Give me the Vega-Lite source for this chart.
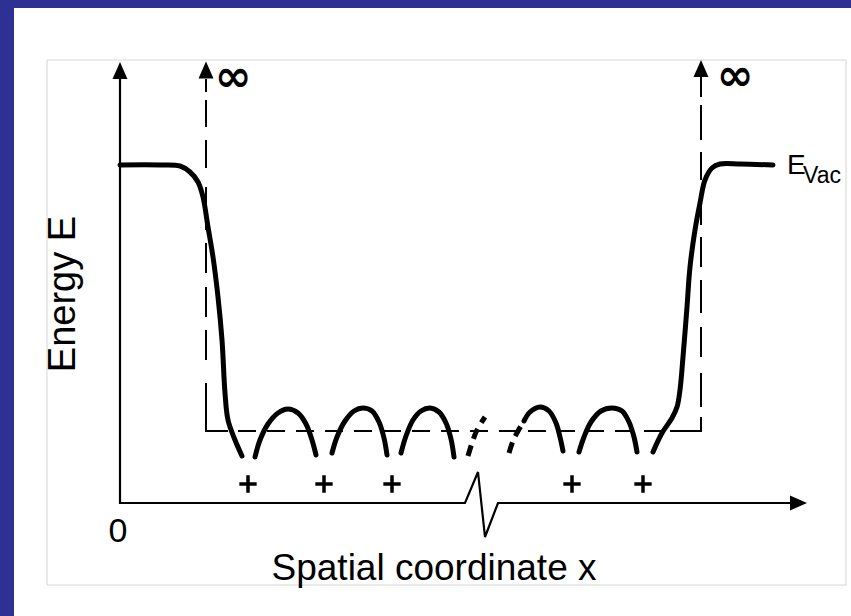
{
  "$schema": "https://vega.github.io/schema/vega-lite/v6.json",
  "width": 851,
  "height": 616,
  "autosize": {"type": "fit", "contains": "padding"},
  "padding": 0,
  "background": "#2e3192",
  "config": {"view": {"stroke": null}, "axis": {"disable": true}, "text": {"font": "Liberation Sans"}},
  "layer": [
    {
      "data": {"values": [{"x": 14, "x2": 851, "y": 8, "y2": 616}]},
      "mark": {"type": "rect", "fill": "#ffffff"},
      "encoding": {
        "x": {"field": "x", "type": "quantitative", "scale": {"domain": [0, 851], "nice": false, "zero": false}, "axis": null},
        "x2": {"field": "x2"},
        "y": {"field": "y", "type": "quantitative", "scale": {"domain": [0, 616], "reverse": true, "nice": false, "zero": false}, "axis": null},
        "y2": {"field": "y2"}
      }
    },
    {
      "data": {"values": [{"x": 47, "x2": 846, "y": 60, "y2": 585}]},
      "mark": {"type": "rect", "fillOpacity": 0, "stroke": "#d6d6d6", "strokeWidth": 1},
      "encoding": {
        "x": {"field": "x", "type": "quantitative"},
        "x2": {"field": "x2"},
        "y": {"field": "y", "type": "quantitative"},
        "y2": {"field": "y2"}
      }
    },
    {
      "data": {"values": [
        {"i": 0, "x": 120, "y": 79},
        {"i": 1, "x": 120, "y": 503},
        {"i": 2, "x": 465, "y": 503},
        {"i": 3, "x": 478, "y": 472},
        {"i": 4, "x": 485, "y": 537},
        {"i": 5, "x": 498, "y": 503},
        {"i": 6, "x": 792, "y": 503}
      ]},
      "mark": {"type": "line", "color": "#000000", "strokeWidth": 2.2, "strokeJoin": "miter"},
      "encoding": {
        "x": {"field": "x", "type": "quantitative"},
        "y": {"field": "y", "type": "quantitative"},
        "order": {"field": "i", "type": "quantitative"}
      }
    },
    {
      "data": {"values": [
        {"g": "a", "i": 0, "x": 206, "y": 383},
        {"g": "a", "i": 1, "x": 206, "y": 431},
        {"g": "a", "i": 2, "x": 228, "y": 431},
        {"g": "b", "i": 0, "x": 670, "y": 431},
        {"g": "b", "i": 1, "x": 701, "y": 431},
        {"g": "b", "i": 2, "x": 701, "y": 417}
      ]},
      "mark": {"type": "line", "color": "#000000", "strokeWidth": 2, "strokeJoin": "miter"},
      "encoding": {
        "x": {"field": "x", "type": "quantitative"},
        "y": {"field": "y", "type": "quantitative"},
        "detail": {"field": "g"},
        "order": {"field": "i", "type": "quantitative"}
      }
    },
    {
      "data": {"values": [
        {"x": 206, "y": 79, "y2": 92},
        {"x": 206, "y": 100, "y2": 127},
        {"x": 206, "y": 140, "y2": 168},
        {"x": 206, "y": 187, "y2": 230},
        {"x": 206, "y": 243, "y2": 273},
        {"x": 206, "y": 287, "y2": 317},
        {"x": 206, "y": 330, "y2": 360},
        {"x": 701, "y": 75, "y2": 97},
        {"x": 701, "y": 105, "y2": 140},
        {"x": 701, "y": 152, "y2": 180},
        {"x": 701, "y": 200, "y2": 225},
        {"x": 701, "y": 237, "y2": 267},
        {"x": 701, "y": 280, "y2": 313},
        {"x": 701, "y": 327, "y2": 357},
        {"x": 701, "y": 373, "y2": 407}
      ]},
      "mark": {"type": "rule", "color": "#000000", "strokeWidth": 2},
      "encoding": {
        "x": {"field": "x", "type": "quantitative"},
        "y": {"field": "y", "type": "quantitative"},
        "y2": {"field": "y2"}
      }
    },
    {
      "data": {"values": [{"x": 238, "x2": 670, "y": 431}]},
      "mark": {"type": "rule", "color": "#000000", "strokeWidth": 2, "strokeDash": [18, 11]},
      "encoding": {
        "x": {"field": "x", "type": "quantitative"},
        "x2": {"field": "x2"},
        "y": {"field": "y", "type": "quantitative"}
      }
    },
    {
      "data": {"values": [
        {"g": "L", "i": 0, "x": 120, "y": 165},
        {"g": "L", "i": 1, "x": 160, "y": 165},
        {"g": "L", "i": 2, "x": 180, "y": 166},
        {"g": "L", "i": 3, "x": 190, "y": 172},
        {"g": "L", "i": 4, "x": 198, "y": 182},
        {"g": "L", "i": 5, "x": 203, "y": 197},
        {"g": "L", "i": 6, "x": 208, "y": 227},
        {"g": "L", "i": 7, "x": 213, "y": 257},
        {"g": "L", "i": 8, "x": 218, "y": 297},
        {"g": "L", "i": 9, "x": 222, "y": 340},
        {"g": "L", "i": 10, "x": 225, "y": 393},
        {"g": "L", "i": 11, "x": 228, "y": 420},
        {"g": "L", "i": 12, "x": 235, "y": 440},
        {"g": "L", "i": 13, "x": 242, "y": 456},
        {"g": "A1", "i": 0, "x": 255, "y": 457},
        {"g": "A1", "i": 1, "x": 260, "y": 440},
        {"g": "A1", "i": 2, "x": 268, "y": 424},
        {"g": "A1", "i": 3, "x": 278, "y": 413},
        {"g": "A1", "i": 4, "x": 288, "y": 409},
        {"g": "A1", "i": 5, "x": 298, "y": 413},
        {"g": "A1", "i": 6, "x": 306, "y": 424},
        {"g": "A1", "i": 7, "x": 312, "y": 440},
        {"g": "A1", "i": 8, "x": 316, "y": 455},
        {"g": "A2", "i": 0, "x": 332, "y": 453},
        {"g": "A2", "i": 1, "x": 337, "y": 437},
        {"g": "A2", "i": 2, "x": 345, "y": 421},
        {"g": "A2", "i": 3, "x": 354, "y": 411},
        {"g": "A2", "i": 4, "x": 363, "y": 408},
        {"g": "A2", "i": 5, "x": 372, "y": 411},
        {"g": "A2", "i": 6, "x": 379, "y": 422},
        {"g": "A2", "i": 7, "x": 384, "y": 438},
        {"g": "A2", "i": 8, "x": 387, "y": 455},
        {"g": "A3", "i": 0, "x": 401, "y": 453},
        {"g": "A3", "i": 1, "x": 406, "y": 436},
        {"g": "A3", "i": 2, "x": 413, "y": 420},
        {"g": "A3", "i": 3, "x": 421, "y": 411},
        {"g": "A3", "i": 4, "x": 430, "y": 408},
        {"g": "A3", "i": 5, "x": 439, "y": 412},
        {"g": "A3", "i": 6, "x": 446, "y": 423},
        {"g": "A3", "i": 7, "x": 451, "y": 439},
        {"g": "A3", "i": 8, "x": 454, "y": 457},
        {"g": "A4", "i": 0, "x": 524, "y": 421},
        {"g": "A4", "i": 1, "x": 530, "y": 412},
        {"g": "A4", "i": 2, "x": 540, "y": 407},
        {"g": "A4", "i": 3, "x": 549, "y": 411},
        {"g": "A4", "i": 4, "x": 556, "y": 423},
        {"g": "A4", "i": 5, "x": 560, "y": 437},
        {"g": "A4", "i": 6, "x": 563, "y": 451},
        {"g": "A5", "i": 0, "x": 579, "y": 452},
        {"g": "A5", "i": 1, "x": 584, "y": 437},
        {"g": "A5", "i": 2, "x": 591, "y": 422},
        {"g": "A5", "i": 3, "x": 601, "y": 411},
        {"g": "A5", "i": 4, "x": 612, "y": 408},
        {"g": "A5", "i": 5, "x": 622, "y": 411},
        {"g": "A5", "i": 6, "x": 629, "y": 422},
        {"g": "A5", "i": 7, "x": 634, "y": 437},
        {"g": "A5", "i": 8, "x": 637, "y": 452},
        {"g": "R", "i": 0, "x": 653, "y": 452},
        {"g": "R", "i": 1, "x": 662, "y": 433},
        {"g": "R", "i": 2, "x": 672, "y": 418},
        {"g": "R", "i": 3, "x": 677, "y": 407},
        {"g": "R", "i": 4, "x": 680, "y": 390},
        {"g": "R", "i": 5, "x": 683, "y": 357},
        {"g": "R", "i": 6, "x": 687, "y": 307},
        {"g": "R", "i": 7, "x": 690, "y": 267},
        {"g": "R", "i": 8, "x": 695, "y": 230},
        {"g": "R", "i": 9, "x": 700, "y": 203},
        {"g": "R", "i": 10, "x": 705, "y": 180},
        {"g": "R", "i": 11, "x": 712, "y": 168},
        {"g": "R", "i": 12, "x": 720, "y": 164},
        {"g": "R", "i": 13, "x": 740, "y": 164},
        {"g": "R", "i": 14, "x": 773, "y": 165}
      ]},
      "mark": {"type": "line", "color": "#000000", "strokeWidth": 5, "interpolate": "catmull-rom", "strokeCap": "round"},
      "encoding": {
        "x": {"field": "x", "type": "quantitative"},
        "y": {"field": "y", "type": "quantitative"},
        "detail": {"field": "g"},
        "order": {"field": "i", "type": "quantitative"}
      }
    },
    {
      "data": {"values": [
        {"g": "D1", "i": 0, "x": 468, "y": 456},
        {"g": "D1", "i": 1, "x": 472, "y": 443},
        {"g": "D1", "i": 2, "x": 477, "y": 430},
        {"g": "D1", "i": 3, "x": 485, "y": 417},
        {"g": "D2", "i": 0, "x": 509, "y": 453},
        {"g": "D2", "i": 1, "x": 513, "y": 441},
        {"g": "D2", "i": 2, "x": 518, "y": 431},
        {"g": "D2", "i": 3, "x": 524, "y": 421}
      ]},
      "mark": {"type": "line", "color": "#000000", "strokeWidth": 5, "interpolate": "catmull-rom", "strokeDash": [11, 7]},
      "encoding": {
        "x": {"field": "x", "type": "quantitative"},
        "y": {"field": "y", "type": "quantitative"},
        "detail": {"field": "g"},
        "order": {"field": "i", "type": "quantitative"}
      }
    },
    {
      "data": {"values": [
        {"x": 120, "y": 70.5, "dir": "up"},
        {"x": 206, "y": 70, "dir": "up"},
        {"x": 701, "y": 68.5, "dir": "up"},
        {"x": 798.5, "y": 503, "dir": "right"}
      ]},
      "mark": {"type": "point", "filled": true, "color": "#000000", "opacity": 1, "size": 289},
      "encoding": {
        "x": {"field": "x", "type": "quantitative"},
        "y": {"field": "y", "type": "quantitative"},
        "shape": {"field": "dir", "type": "nominal", "legend": null, "scale": {"domain": ["up", "right"], "range": ["M0,-1L0.88,1L-0.88,1Z", "M1,0L-1,0.88L-1,-0.88Z"]}}
      }
    },
    {
      "data": {"values": [
        {"x": 248, "y": 484},
        {"x": 324, "y": 484},
        {"x": 392, "y": 484},
        {"x": 572, "y": 484},
        {"x": 643, "y": 484}
      ]},
      "mark": {"type": "point", "filled": false, "color": "#000000", "opacity": 1, "strokeWidth": 3.5, "size": 300, "shape": "M-1,0L1,0M0,-1L0,1"},
      "encoding": {
        "x": {"field": "x", "type": "quantitative"},
        "y": {"field": "y", "type": "quantitative"}
      }
    },
    {
      "data": {"values": [{"t": "Energy E", "x": 75, "y": 294}]},
      "mark": {"type": "text", "fontSize": 38, "angle": 270, "align": "center", "baseline": "alphabetic", "color": "#000000"},
      "encoding": {
        "x": {"field": "x", "type": "quantitative"},
        "y": {"field": "y", "type": "quantitative"},
        "text": {"field": "t"}
      }
    },
    {
      "data": {"values": [{"t": "Spatial coordinate x", "x": 434, "y": 580}]},
      "mark": {"type": "text", "fontSize": 37, "align": "center", "baseline": "alphabetic", "color": "#000000"},
      "encoding": {
        "x": {"field": "x", "type": "quantitative"},
        "y": {"field": "y", "type": "quantitative"},
        "text": {"field": "t"}
      }
    },
    {
      "data": {"values": [{"t": "0", "x": 118, "y": 542}]},
      "mark": {"type": "text", "fontSize": 34, "align": "center", "baseline": "alphabetic", "color": "#000000"},
      "encoding": {
        "x": {"field": "x", "type": "quantitative"},
        "y": {"field": "y", "type": "quantitative"},
        "text": {"field": "t"}
      }
    },
    {
      "data": {"values": [{"t": "∞", "x": 233, "y": 78}, {"t": "∞", "x": 735, "y": 77}]},
      "mark": {"type": "text", "font": "DejaVu Sans", "fontSize": 44, "fontWeight": "bold", "align": "center", "baseline": "middle", "color": "#000000"},
      "encoding": {
        "x": {"field": "x", "type": "quantitative"},
        "y": {"field": "y", "type": "quantitative"},
        "text": {"field": "t"}
      }
    },
    {
      "data": {"values": [{"t": "E", "x": 787, "y": 174}]},
      "mark": {"type": "text", "fontSize": 28, "align": "left", "baseline": "alphabetic", "color": "#000000"},
      "encoding": {
        "x": {"field": "x", "type": "quantitative"},
        "y": {"field": "y", "type": "quantitative"},
        "text": {"field": "t"}
      }
    },
    {
      "data": {"values": [{"t": "Vac", "x": 803, "y": 183}]},
      "mark": {"type": "text", "fontSize": 23, "align": "left", "baseline": "alphabetic", "color": "#000000"},
      "encoding": {
        "x": {"field": "x", "type": "quantitative"},
        "y": {"field": "y", "type": "quantitative"},
        "text": {"field": "t"}
      }
    }
  ]
}
